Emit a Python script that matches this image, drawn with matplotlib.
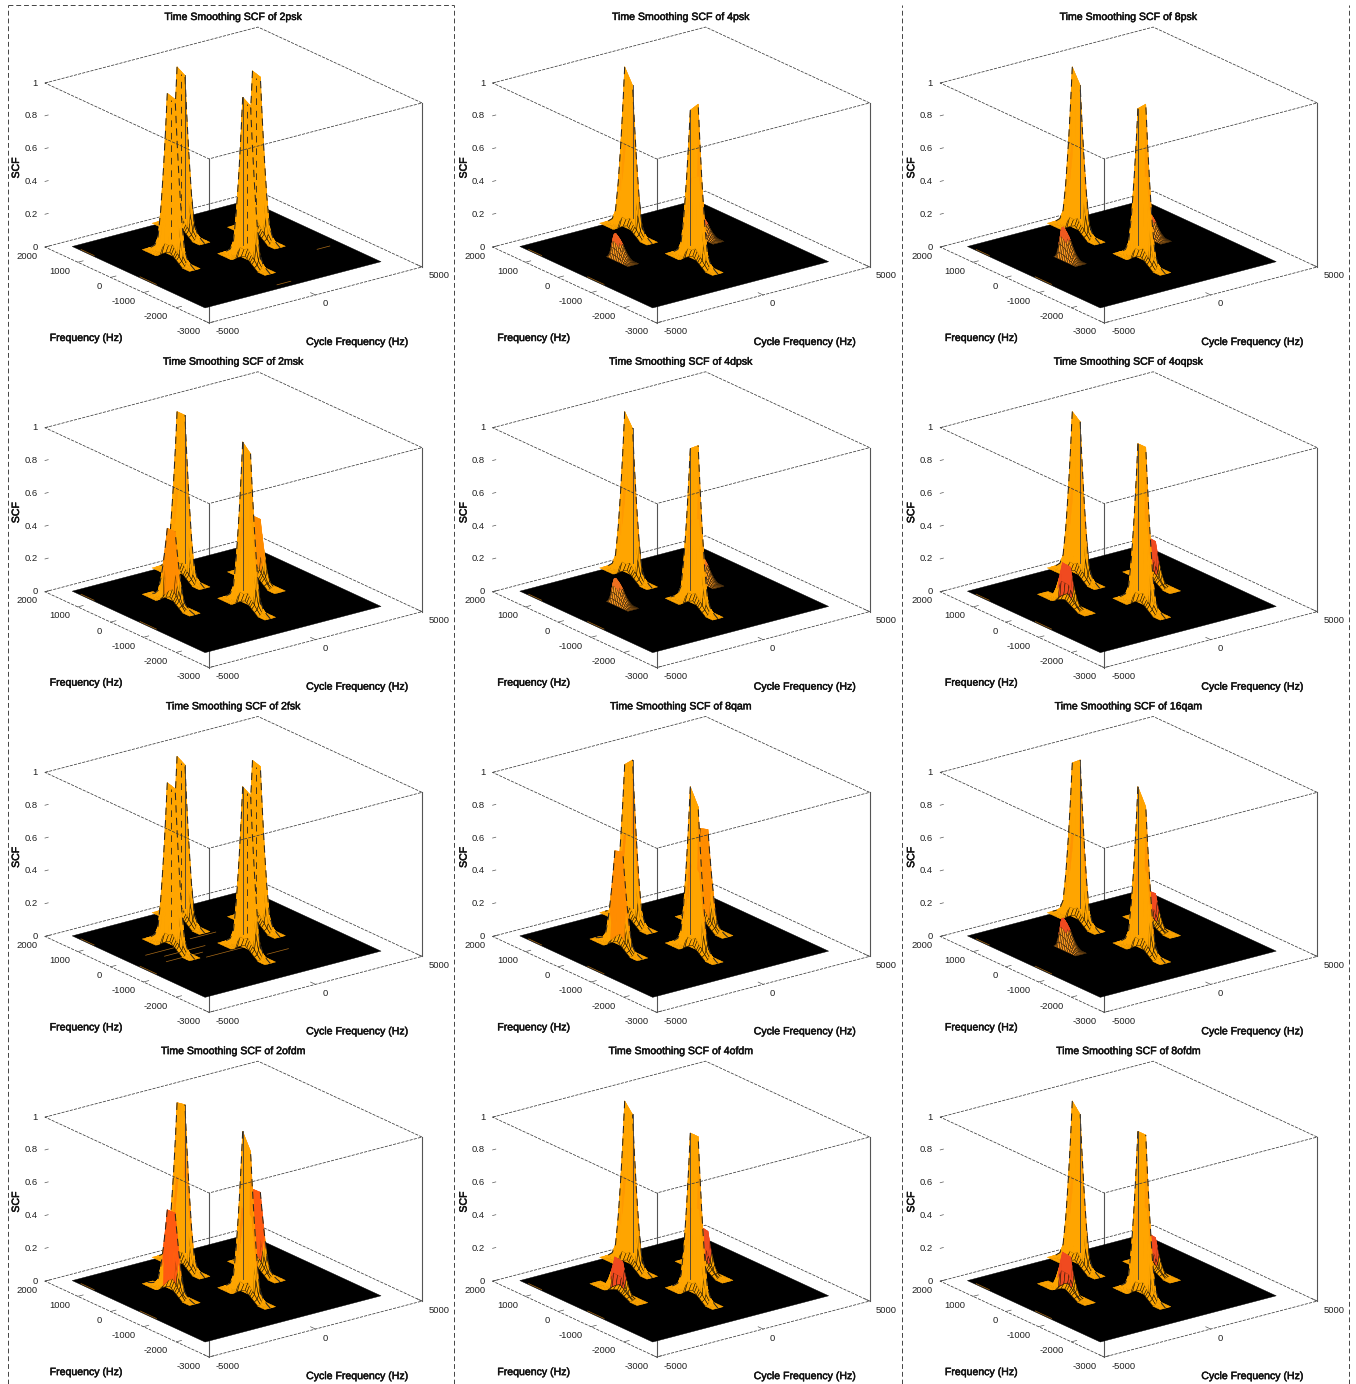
import numpy as np
import matplotlib
matplotlib.use("Agg")
import matplotlib.pyplot as plt
import matplotlib.patheffects as pe
from matplotlib.lines import Line2D
from matplotlib.colors import to_rgba
from mpl_toolkits.mplot3d import proj3d

plt.rcParams['font.family'] = ['Liberation Sans', 'DejaVu Sans']

W, H = 1356, 1384
TITLES = ['2psk', '4psk', '8psk', '2msk', '4dpsk', '4oqpsk', '2fsk', '8qam', '16qam', '2ofdm', '4ofdm', '8ofdm']

# peak heights, one value per panel
BACK_H = [1.0, 1.0, 1.0, 1.0, 1.0, 1.0, 1.0, 1.0, 1.0, 1.0, 1.0, 1.0]
FRONT_H = [1.0, 0.98, 0.98, 1.0, 1.0, 0.99, 1.0, 1.0, 1.0, 1.0, 0.99, 1.0]
LEFT_H = [1.0, 0.15, 0.19, 0.45, 0.15, 0.24, 1.0, 0.60, 0.18, 0.50, 0.21, 0.24]
RIGHT_H = [1.0, 0.13, 0.15, 0.39, 0.16, 0.26, 1.0, 0.60, 0.21, 0.49, 0.26, 0.22]
BACK_TILT = [0.03, 0.09, 0.09, 0.0, 0.08, 0.04, 0.03, -0.05, -0.04, -0.01, 0.06, 0.06]
FRONT_TILT = [0.03, -0.06, -0.05, 0.05, -0.04, 0.0, 0.03, 0.10, 0.10, 0.10, 0.0, 0.0]
SIDE_COLOR = ['#FFA500', '#F06020', '#F05A20', '#FF8C00', '#F07020', '#F04A20',
              '#FFA500', '#FF8C00', '#F04A20', '#FF5A10', '#F04A20', '#F04A20']
CORE_COLOR = ['#FFA500', '#FF9A00', '#FF9A00', '#FF9C00', '#FF9A00', '#FF9A00',
              '#FFA500', '#FF8C00', '#FF9400', '#FF8C00', '#FF9A00', '#FF9A00']

# peak centres (cycle frequency, frequency) in Hz
PEAK_ALPHA = {'back': 0, 'right': 2000, 'left': -2000, 'front': 0}
PEAK_FREQ = {'back': 1100, 'right': 100, 'left': 100, 'front': -900}

# tabulated peak cross sections
SPIKE_DA = [-250, -120, -60, 0, 60, 120, 250]
SPIKE_A = [0, 0.09, 0.55, 1, 0.55, 0.09, 0]
SPIKE_DF = [-720, -620, -500, -400, -320, -270, -230, -170, -120, 0, 120, 170, 230, 270, 320, 400, 500, 620, 720]
SPIKE_F = [0, 0.015, 0.04, 0.10, 0.27, 0.42, 0.55, 0.78, 1, 1, 1, 0.78, 0.55, 0.42, 0.27, 0.10, 0.04, 0.015, 0]
PILE_DA = [-220, -180, -140, -100, -60, -20, 20, 60, 100, 140, 180, 220, 260, 300]
PILE_A = [0, 0.2, 0.45, 0.7, 0.9, 1, 0.95, 0.8, 0.65, 0.5, 0.35, 0.2, 0.08, 0]
PILE_DF = [-420, -370, -320, -270, -220, -170, -120, -70, -20, 30, 80, 130, 170, 210, 250]
PILE_F = [0, 0.08, 0.18, 0.30, 0.42, 0.55, 0.68, 0.78, 0.87, 0.94, 1, 0.95, 0.62, 0.25, 0]
LUMP_DA = [-350, -150, 50]
LUMP_A = [0, 1, 0]
LUMP_DF = [-500, -100, 300]
LUMP_F = [0, 1, 0]
LUMP_H = 0.13

# floor extent and axes
FLOOR_ALPHA = [-4130, 4130]
FLOOR_FREQ = [-2300, 1750]
Z_TICKS = [0, 0.2, 0.4, 0.6, 0.8, 1]
F_TICKS = [2000, 1000, 0, -1000, -2000, -3000]
A_TICKS = [-5000, 0, 5000]
# small orange traces on the floor: (alpha0, f0, alpha1, f1)
STREAKS_COMMON = [(-4080, 1500, -4080, 1100), (-4080, -300, -4080, -800)]
STREAKS = {0: [(-500, -2150, 150, -2150), (3000, -1100, 3600, -1100), (3400, 900, 3450, 800)],
           6: [(-3200, 100, -1800, 100), (-3000, -400, -1300, -400), (-2700, -150, -800, -150),
               (-1500, -650, 400, -650), (-800, 300, 400, 300), (500, -1200, 1500, -1200)]}

S = 407.3
CX0, CY0, DX, DY = 233.5, 175.0, 447.6, 344.7
GRID_OFF = 0.095 / 0.185
DARK = '#2a2620'
BOLDISH = [pe.withStroke(linewidth=0.35, foreground='#111111')]


def add_peak(ax, a0, f0, h, tilt, side_col, core_col, z, kind, four_tall):
    is_pile = h < 0.2
    if is_pile:
        da, pa, df, pf = PILE_DA, PILE_A, PILE_DF, PILE_F
    else:
        da, pa, df, pf = SPIKE_DA, SPIKE_A, SPIKE_DF, SPIKE_F
    A, F = np.meshgrid(da, df)
    Zv = np.outer(pf, pa)
    if not is_pile:
        top = np.clip((np.array(df)[:, None] + 120) / 240, 0, 1)
        if tilt >= 0:
            m = 1 - tilt * (1 - top)
        else:
            m = 1 + tilt * top
        Zv = Zv * m
    Zv = Zv * h
    if h >= 0.2:
        lump = np.outer(np.interp(df, LUMP_DF, LUMP_F), np.interp(da, LUMP_DA, LUMP_A)) * min(LUMP_H, h * 0.4)
        Zv = np.maximum(Zv, lump)
    mean = 0.25 * (Zv[:-1, :-1] + Zv[1:, :-1] + Zv[:-1, 1:] + Zv[1:, 1:])
    fc = np.zeros(Zv.shape + (4,))
    fc[..., :] = to_rgba('#FFA000')
    ec = np.zeros(mean.shape + (4,))
    rel = mean / max(h, 1e-6)
    for i in range(mean.shape[0]):
        for j in range(mean.shape[1]):
            c = '#FFA500' if not is_pile else '#FF9A20'
            dfm, dam = 0.5 * (df[i] + df[i + 1]), 0.5 * (da[j] + da[j + 1])
            if h >= 0.5 and rel[i, j] > 0.15 and 0 <= dam < 60:
                c = core_col
            if h < 0.9 and not is_pile and rel[i, j] > 0.25 and abs(dfm) < 230 and dam < 60:
                c = side_col
            if is_pile and rel[i, j] > 0.62:
                c = side_col
            fc[i, j] = to_rgba(c)
            ec[i, j] = to_rgba(c)
            if is_pile and rel[i, j] <= 0.62:
                ec[i, j] = to_rgba('#1a1208')
            elif not is_pile and mean[i, j] < 0.14 and -560 < dfm < 170 and dam < 90:
                ec[i, j] = to_rgba('#1a1208')
    surf = ax.plot_surface(A + a0, F + f0, Zv, facecolors=fc, shade=False,
                           rstride=1, cstride=1, linewidth=0.25 if is_pile else 0.35, zorder=z, antialiased=True)
    surf.set_edgecolors(ec.reshape(-1, 4))
    if h >= 0.45:
        dfa = np.array(df)
        pfa = np.array(pf)
        sel_l = dfa >= 120
        sel_r = dfa <= -120
        hl = h if tilt >= 0 else h * (1 + tilt)
        hr = h * (1 - tilt) if tilt >= 0 else h
        ax.plot(dfa[sel_l] * 0 + a0, dfa[sel_l] + f0, pfa[sel_l] * hl, color=DARK, lw=0.75,
                ls=(0, (7, 5)), zorder=z + 0.1)
        ax.plot(dfa[sel_r] * 0 + a0, dfa[sel_r] + f0, pfa[sel_r] * hr, color=DARK, lw=0.75,
                ls=(0, (7, 5)), zorder=z + 0.1)
        if h >= 0.9:
            if four_tall:
                ax.plot([a0, a0], [f0, f0], [0.12, h * 0.97], color=DARK, lw=0.6, ls=(0, (8, 7)), zorder=z + 0.1)
            if kind == 'back':
                ax.plot([a0, a0], [f0 - 120, f0 - 120], [0.1, hr], color='#3c3c3c', lw=0.6, zorder=z + 0.1)
            if kind == 'front':
                ax.plot([a0, a0], [f0 + 120, f0 + 120], [0.1, hl], color='#3c3c3c', lw=0.6, zorder=z + 0.1)


def label(ax, x, y, z, text, dx, dy, **kw):
    px, py, _ = proj3d.proj_transform(x, y, z, ax.get_proj())
    ax.annotate(text, xy=(px, py), xycoords='data', xytext=(dx, dy), textcoords='offset pixels',
                ha='center', va='center', annotation_clip=False, color='#222222', **kw)


fig = plt.figure(figsize=(W / 100, H / 100), dpi=100, facecolor='white')
LINE = dict(color='#3a3a3a', lw=0.55, ls=(0, (4, 1.6)))

for idx, name in enumerate(TITLES):
    r, c = idx // 3, idx % 3
    cx, cy = CX0 + c * DX, CY0 + r * DY
    ax = fig.add_axes([(cx - GRID_OFF * S) / W, ((H - cy) - GRID_OFF * S) / H, S / W, S / H],
                      projection='3d', computed_zorder=False)
    ax.patch.set_visible(False)
    ax.set_axis_off()
    ax.set_proj_type('ortho')
    ax.view_init(elev=20.4, azim=-127)
    ax.set_box_aspect((266.7, 272.5, 175.0))
    ax.set_xlim(-5000, 5000, view_margin=0)
    ax.set_ylim(-3000, 2000, view_margin=0)
    ax.set_zlim(0, 1, view_margin=0)

    amin, amax, fmin, fmax = -5000, 5000, -3000, 2000
    # floor rectangle, verticals
    ax.plot([amin, amax, amax, amin, amin], [fmax, fmax, fmin, fmin, fmax], [0] * 5, zorder=1, **LINE)
    ax.plot([amin, amin], [fmin, fmin], [0, 1], color='#555555', lw=0.8, zorder=1)
    ax.plot([amax, amax], [fmin, fmin], [0, 1], color='#555555', lw=0.8, zorder=1)

    fa, ff = np.meshgrid(FLOOR_ALPHA, FLOOR_FREQ)
    ax.plot_surface(fa, ff, np.zeros_like(fa, dtype=float), color='black', edgecolor='black',
                    shade=False, rstride=1, cstride=1, zorder=2, linewidth=0.3)
    for (a0, f0, a1, f1) in STREAKS_COMMON + STREAKS.get(idx, []):
        ax.plot([a0, a1], [f0, f1], [0, 0], color='#A86A18', lw=0.5, zorder=2.5)

    heights = {'back': BACK_H[idx], 'right': RIGHT_H[idx], 'left': LEFT_H[idx], 'front': FRONT_H[idx]}
    tilts = {'back': BACK_TILT[idx], 'right': BACK_TILT[idx] * 0.5, 'left': BACK_TILT[idx] * 0.5, 'front': FRONT_TILT[idx]}
    for k, kind in enumerate(['back', 'right', 'left', 'front']):
        add_peak(ax, PEAK_ALPHA[kind], PEAK_FREQ[kind], heights[kind], tilts[kind],
                 SIDE_COLOR[idx], CORE_COLOR[idx], 3 + k, kind, LEFT_H[idx] >= 0.9)

    # top rectangle passes over the peaks
    ax.plot([amin, amax, amax, amin, amin], [fmax, fmax, fmin, fmin, fmax], [1] * 5, zorder=9, **LINE)

    # ticks and labels
    for zt in Z_TICKS:
        ax.plot([amin, amin + 150], [fmax, fmax], [zt, zt], color='#555555', lw=0.5, zorder=9)
        label(ax, amin, fmax, zt, f'{zt:g}', -10 if zt in (0, 1) else -14, 0, fontsize=6.8)
    for ft in F_TICKS:
        ax.plot([amin, amin + 250], [ft, ft], [0, 0], color='#555555', lw=0.5, zorder=9)
        off = {2000: -18, 1000: -18, 0: -11, -1000: -20, -2000: -20, -3000: -20}[ft]
        label(ax, amin, ft, 0, str(ft), off, -9, fontsize=6.8)
    for at in A_TICKS:
        ax.plot([at, at], [fmin, fmin + 150], [0, 0], color='#555555', lw=0.5, zorder=9)
        off = {-5000: 19, 0: 9.5, 5000: 17}[at]
        label(ax, at, fmin, 0, str(at), off, -9, fontsize=6.8)

    fig.text((cx - 0.5) / W, 1 - (cy - 158) / H, f'Time Smoothing SCF of {name}', ha='center', va='center',
             fontsize=7.6, color='#111111', path_effects=BOLDISH)
    fig.text((cx - 147.5) / W, 1 - (cy + 163) / H, 'Frequency (Hz)', ha='center', va='center',
             fontsize=7.6, color='#111111', path_effects=BOLDISH)
    fig.text((cx + 123.5) / W, 1 - (cy + 167) / H, 'Cycle Frequency (Hz)', ha='center', va='center',
             fontsize=7.6, color='#111111', path_effects=BOLDISH)
    fig.text((cx - 217.5) / W, 1 - (cy - 7) / H, 'SCF', rotation=90, ha='center', va='center',
             fontsize=7.6, color='#111111', path_effects=BOLDISH)

# dashed frames between the columns
frame = dict(color='#444444', lw=0.7, ls=(0, (5, 3)), transform=fig.transFigure)
for xp in [8, 454, 902, 1349]:
    fig.add_artist(Line2D([xp / W, xp / W], [0, 1 - 5 / H], **frame))
fig.add_artist(Line2D([8 / W, 454 / W], [1 - 5 / H, 1 - 5 / H], **frame))

fig.savefig('out.png', dpi=100)
